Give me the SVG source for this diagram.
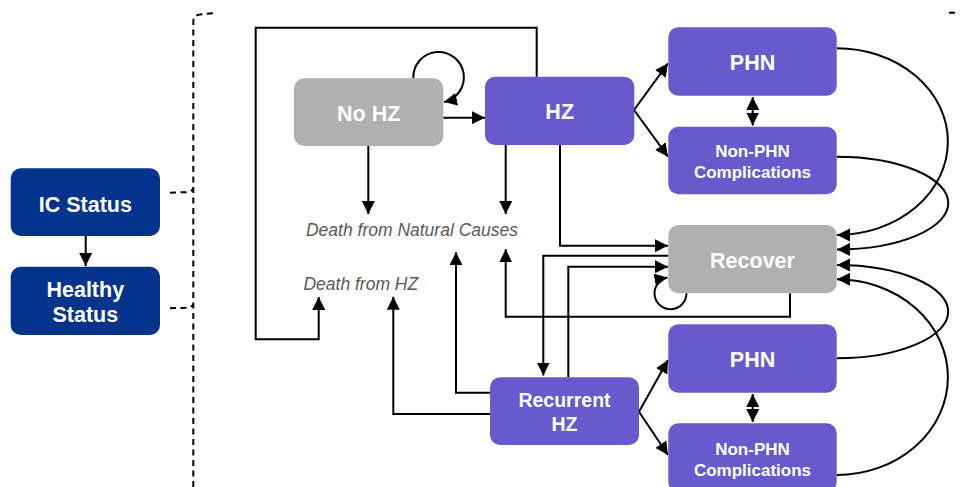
<svg xmlns="http://www.w3.org/2000/svg" width="960" height="487" viewBox="0 0 960 487">
<defs>
<marker id="ah" markerUnits="userSpaceOnUse" markerWidth="13" markerHeight="13" refX="12" refY="6" orient="auto-start-reverse" viewBox="0 0 12 12">
<path d="M0,0 L12,6 L0,12 z" fill="#000"/>
</marker>
<style>
.blue{fill:#04338b}
.purple{fill:#665acd}
.gray{fill:#b0b0b0}
.t{font-family:"Liberation Sans",Arial,sans-serif;font-weight:bold;fill:#fff;text-anchor:middle}
.big{font-size:21.5px}
.mid{font-size:19.5px}
.sm{font-size:17px}
.lab{font-family:"Liberation Sans",Arial,sans-serif;font-style:italic;font-size:17.5px;fill:#595959;text-anchor:middle}
.c{fill:none;stroke:#000;stroke-width:2}
.a{marker-end:url(#ah)}
.d{fill:none;stroke:#000;stroke-width:2;stroke-dasharray:6 4.5}
</style>
</defs>
<rect width="960" height="487" fill="#fff"/>

<g id="bracket">
<path class="d" d="M193.3,487 L193.3,22 Q193.3,15 200,14.5 L215,13"/>
<path class="d" d="M170,192.7 L186,192.2 Q191,191.8 193.3,189"/>
<path class="d" d="M170,308.3 L186,307.8 Q191,307.4 193.3,304.6"/>
<line x1="949" y1="12.7" x2="955" y2="12.7" stroke="#000" stroke-width="2"/>
</g>

<g id="connectors">
<path class="c a" d="M85.7,236 L85.7,266"/>
<path class="c a" d="M443.3,117.7 L485,117.7"/>
<path class="c a" d="M413.3,78 A25.3 25.3 0 1 1 444,102"/>
<path class="c a" d="M368.3,146 L368.3,214"/>
<path class="c a" d="M505.7,145 L505.7,214"/>
<path class="c a" d="M560,145 L560,245.7 L668,245.7"/>
<path class="c a" d="M536.7,76.7 L536.7,27.7 L255.7,27.7 L255.7,339.3 L318.7,339.3 L318.7,297"/>
<path class="c a" d="M634,110 L668,63.3"/>
<path class="c a" d="M634,110 L668,156.7"/>
<path class="c" d="M752.7,97 L752.7,125.5" marker-start="url(#ah)" marker-end="url(#ah)"/>
<path class="c a" d="M836.7,48.3 A111 93.3 0 0 1 837,235"/>
<path class="c a" d="M836.7,156.7 A111 46.2 0 0 1 837,249.5"/>
<path class="c a" d="M686.5,293.3 A16 16 0 1 1 667.5,277.5"/>
<path class="c a" d="M790,293.3 L790,316.7 L505.7,316.7 L505.7,249.3"/>
<path class="c a" d="M668.3,255.7 L543.3,255.7 L543.3,375.5"/>
<path class="c a" d="M568.3,377.3 L568.3,266.7 L668,266.7"/>
<path class="c a" d="M490,392.7 L456,392.7 L456,252.3"/>
<path class="c a" d="M490,414 L393.3,414 L393.3,296.7"/>
<path class="c a" d="M639,411.7 L668,360"/>
<path class="c a" d="M639,411.7 L668,455"/>
<path class="c" d="M752.7,394 L752.7,422" marker-start="url(#ah)" marker-end="url(#ah)"/>
<path class="c a" d="M836.7,358.3 A111 46.5 0 0 0 837,265"/>
<path class="c a" d="M836.7,475 A111 97.8 0 0 0 837,279.3"/>
</g>

<g id="ic-status">
<rect class="blue" x="10.7" y="168.3" width="149.3" height="67.7" rx="10"/>
<text class="t big" x="85.3" y="211.7">IC Status</text>
</g>
<g id="healthy-status">
<rect class="blue" x="10.7" y="266.7" width="149.3" height="68.3" rx="10"/>
<text class="t big" x="85.3" y="296.7">Healthy</text>
<text class="t big" x="85.3" y="321.7">Status</text>
</g>
<g id="no-hz">
<rect class="gray" x="294" y="78.3" width="149.3" height="67.7" rx="10"/>
<text class="t big" x="368.7" y="121">No HZ</text>
</g>
<g id="hz">
<rect class="purple" x="485" y="76.7" width="149.3" height="68.3" rx="10"/>
<text class="t big" x="559.7" y="119.3">HZ</text>
</g>
<g id="phn-top">
<rect class="purple" x="668.3" y="27.3" width="168.4" height="68.4" rx="10"/>
<text class="t big" x="752.5" y="70">PHN</text>
</g>
<g id="nonphn-top">
<rect class="purple" x="668.3" y="126.7" width="168.4" height="67.6" rx="10"/>
<text class="t sm" x="752.5" y="156.7">Non-PHN</text>
<text class="t sm" x="752.5" y="177.7">Complications</text>
</g>
<g id="recover">
<rect class="gray" x="668.3" y="225" width="168.4" height="68.3" rx="10"/>
<text class="t big" x="752.5" y="267.7">Recover</text>
</g>
<g id="recurrent-hz">
<rect class="purple" x="490" y="377.3" width="149" height="67.7" rx="10"/>
<text class="t mid" x="564.5" y="407.3">Recurrent</text>
<text class="t mid" x="564.5" y="430.7">HZ</text>
</g>
<g id="phn-bottom">
<rect class="purple" x="668.3" y="324.3" width="168.4" height="68.4" rx="10"/>
<text class="t big" x="752.5" y="366.7">PHN</text>
</g>
<g id="nonphn-bottom">
<rect class="purple" x="668.3" y="423.3" width="168.4" height="68.4" rx="10"/>
<text class="t sm" x="752.5" y="455">Non-PHN</text>
<text class="t sm" x="752.5" y="475.5">Complications</text>
</g>
<g id="death-natural">
<text class="lab" x="412" y="236">Death from Natural Causes</text>
</g>
<g id="death-hz">
<text class="lab" x="360.8" y="290">Death from HZ</text>
</g>
</svg>
